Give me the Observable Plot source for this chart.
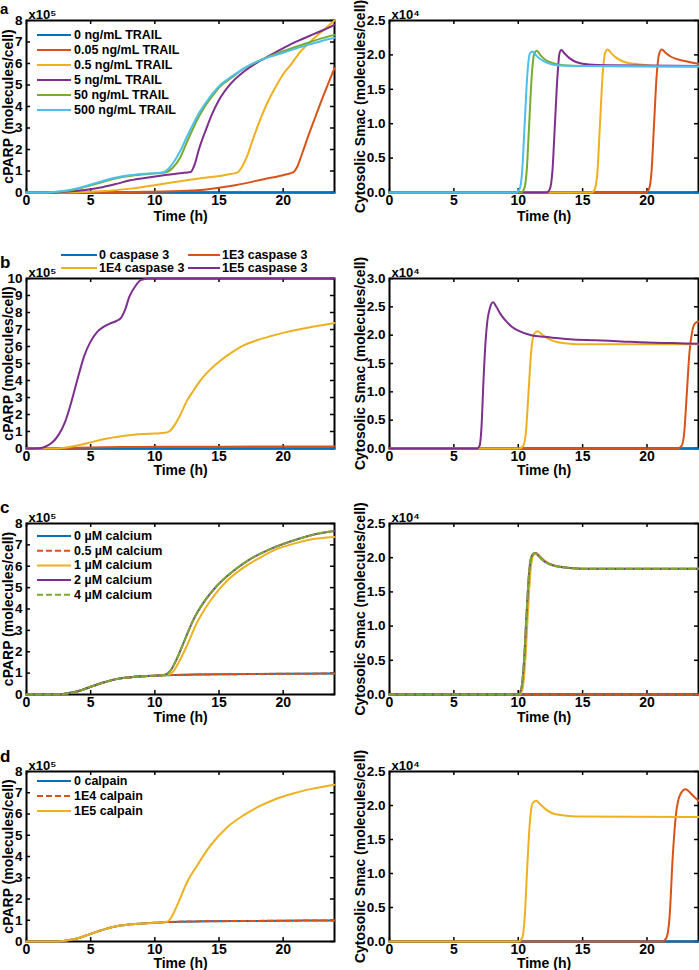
<!DOCTYPE html>
<html><head><meta charset="utf-8">
<script src="https://cdn.jsdelivr.net/npm/d3@7"></script>
<script src="https://cdn.jsdelivr.net/npm/@observablehq/plot@0.6"></script>
<style>
body{margin:0;background:#fff;}
#fig{position:relative;width:699px;height:970px;overflow:hidden;background:#fff;}
</style>
</head><body><div id="fig"></div>
<script>
// ---------- tick labels ----------
const xTicks = [0, 5, 10, 15, 20];
const yTicks8 = [0, 1, 2, 3, 4, 5, 6, 7, 8];
const yTicks10 = [0, 1, 2, 3, 4, 5, 6, 7, 8, 9, 10];
const yTicks25 = [0, 0.5, 1, 1.5, 2, 2.5];
const yTicks3 = [0, 0.5, 1, 1.5, 2, 2.5, 3];

// ---------- legend labels ----------
const legendA = ["0 ng/mL TRAIL", "0.05 ng/mL TRAIL", "0.5 ng/mL TRAIL", "5 ng/mL TRAIL", "50 ng/mL TRAIL", "500 ng/mL TRAIL"];
const legendB = ["0 caspase 3", "1E3 caspase 3", "1E4 caspase 3", "1E5 caspase 3"];
const legendC = ["0 µM calcium", "0.5 µM calcium", "1 µM calcium", "2 µM calcium", "4 µM calcium"];
const legendD = ["0 calpain", "1E4 calpain", "1E5 calpain"];

// ---------- data: [time (h), value] ----------
// Panel a, cPARP (x10^5)
const aL_0 = [[0,0],[24,0]];
const aL_005 = [[0,0],[6,0],[8.1,0.02],[10.7,0.05],[13.3,0.1],[15.9,0.3],[18.5,0.62],[20.2,0.84],[20.8,0.95],[21.1,1.2],[21.5,1.85],[22,2.7],[22.5,3.5],[23,4.3],[23.5,5.05],[24,5.78]];
const aL_05 = [[0,0],[3,0],[5,0.03],[8.1,0.18],[10.7,0.41],[13.3,0.64],[15.9,0.86],[16.45,0.94],[16.8,1.2],[17.2,1.7],[17.6,2.4],[18,3.06],[18.75,4.15],[19.5,5.0],[20,5.5],[20.6,5.95],[21.35,6.55],[22.4,7.17],[23.3,7.64],[24,8.0]];
const aL_5 = [[0,0],[2,0],[3,0.03],[4,0.08],[5,0.15],[6,0.26],[7,0.4],[8.1,0.57],[9.5,0.7],[10.7,0.8],[12,0.9],[12.78,0.95],[13.1,1.3],[13.43,2.0],[14,2.95],[14.5,3.7],[15,4.3],[15.9,5.05],[17,5.65],[18,6.05],[18.5,6.22],[19.5,6.55],[20.5,6.87],[21.5,7.14],[22.5,7.4],[23.3,7.6],[24,7.8]];
const aL_50 = [[0,0],[1.5,0],[2,0.01],[3,0.06],[4,0.17],[5,0.33],[6,0.5],[7,0.66],[8,0.77],[9,0.84],[10,0.89],[10.8,0.93],[11.4,1.15],[12,1.65],[12.5,2.35],[13,3.0],[13.5,3.6],[14,4.1],[14.5,4.5],[15,4.88],[16,5.35],[17,5.78],[18,6.1],[19,6.35],[20,6.57],[21,6.78],[22,6.98],[23,7.17],[24,7.33]];
const aL_500 = [[0,0],[1.5,0],[2,0.02],[3,0.08],[4,0.2],[5,0.37],[6,0.55],[7,0.7],[8,0.8],[9,0.86],[10,0.9],[10.6,0.93],[10.9,1.02],[11.48,1.42],[12,1.95],[12.5,2.6],[13,3.2],[13.5,3.75],[14,4.2],[14.5,4.6],[15,4.95],[16,5.4],[17,5.8],[18,6.1],[19,6.32],[20,6.5],[21,6.7],[22,6.88],[23,7.05],[24,7.2]];
// Panel a, cytosolic Smac (x10^4)
const aR_0 = [[0,0],[24,0]];
const aR_005 = [[0,0],[19.9,0],[20.15,0.05],[20.35,0.3],[20.55,1.0],[20.75,1.7],[20.95,2.02],[21.15,2.08],[21.4,2.04],[21.8,1.98],[22.5,1.93],[23.2,1.9],[24,1.87]];
const aR_05 = [[0,0],[15.7,0],[15.95,0.05],[16.15,0.3],[16.35,1.0],[16.55,1.7],[16.75,2.03],[16.95,2.08],[17.2,2.03],[17.6,1.96],[18.2,1.9],[19,1.87],[20,1.85],[21,1.84],[24,1.84]];
const aR_5 = [[0,0],[12.2,0],[12.45,0.05],[12.65,0.3],[12.85,1.0],[13.05,1.7],[13.2,2.02],[13.35,2.07],[13.6,2.02],[14,1.95],[14.6,1.89],[15.5,1.86],[17,1.85],[24,1.84]];
const aR_50 = [[0,0],[10.2,0],[10.45,0.05],[10.65,0.3],[10.85,1.0],[11.05,1.7],[11.25,2.02],[11.45,2.06],[11.7,2.0],[12.1,1.93],[12.7,1.88],[13.5,1.85],[15,1.84],[24,1.83]];
const aR_500 = [[0,0],[9.8,0],[10.1,0.05],[10.3,0.3],[10.5,1.0],[10.7,1.7],[10.9,2.02],[11.1,2.05],[11.35,2.0],[11.7,1.94],[12.3,1.88],[13,1.85],[14.5,1.84],[24,1.83]];
// Panel b, cPARP (x10^5)
const bL_0 = [[0,0],[24,0]];
const bL_1E3 = [[0,0],[2,0.01],[4,0.04],[6,0.07],[8,0.09],[10,0.1],[15,0.11],[24,0.12]];
const bL_1E4 = [[0,0],[2,0],[3,0.05],[4,0.18],[5,0.36],[6,0.55],[7,0.68],[8,0.78],[9,0.85],[10,0.88],[10.8,0.92],[11.2,1.05],[11.6,1.45],[12,2.0],[12.5,2.8],[13,3.4],[13.5,3.95],[14,4.4],[15,5.1],[16,5.65],[17,6.1],[18,6.38],[19,6.6],[20,6.8],[21,6.97],[22,7.12],[23,7.25],[24,7.38]];
const bL_1E5 = [[0,0],[1,0.02],[1.5,0.12],[2,0.35],[2.5,0.8],[3,1.55],[3.5,2.75],[4,4.15],[4.5,5.45],[5,6.3],[5.5,6.85],[6,7.15],[6.5,7.35],[7,7.5],[7.35,7.67],[7.7,8.2],[8,8.9],[8.5,9.57],[8.9,9.9],[9.5,10],[24,10]];
// Panel b, cytosolic Smac (x10^4)
const bR_0 = [[0,0],[24,0]];
const bR_1E3 = [[0,0],[22.4,0],[22.7,0.05],[22.9,0.3],[23.1,1.0],[23.3,1.7],[23.5,2.05],[23.7,2.2],[24,2.24]];
const bR_1E4 = [[0,0],[10.1,0],[10.4,0.05],[10.6,0.3],[10.8,1.0],[11.0,1.7],[11.25,2.03],[11.5,2.07],[11.8,2.02],[12.3,1.94],[13,1.88],[14,1.85],[15,1.84],[24,1.84]];
const bR_1E5 = [[0,0],[6.8,0],[7.0,0.05],[7.15,0.4],[7.3,1.2],[7.45,1.85],[7.6,2.25],[7.8,2.48],[8.05,2.58],[8.3,2.5],[8.6,2.38],[9,2.26],[9.5,2.15],[10,2.08],[11,2.0],[12,1.97],[13,1.95],[14,1.93],[16,1.91],[18,1.89],[20,1.87],[22,1.86],[24,1.85]];
// Panel c, cPARP (x10^5)
const cL_0 = [[0,0],[2,0],[3,0.04],[4,0.15],[5,0.36],[6,0.56],[7,0.72],[8,0.8],[9,0.85],[10,0.88],[10.7,0.9],[13,0.93],[16,0.95],[20,0.97],[24,0.98]];
const cL_05 = [[0,0],[2,0],[3,0.04],[4,0.15],[5,0.36],[6,0.56],[7,0.72],[8,0.8],[9,0.85],[10,0.88],[10.7,0.9],[13,0.93],[16,0.95],[20,0.97],[24,0.98]];
const cL_1 = [[0,0],[2,0],[3,0.04],[4,0.15],[5,0.36],[6,0.56],[7,0.72],[8,0.8],[9,0.85],[10,0.88],[11,0.92],[11.4,1.05],[11.9,1.55],[12.39,2.14],[13.3,3.38],[14.34,4.4],[15.64,5.33],[16.94,5.95],[18.24,6.42],[19.54,6.81],[20.83,7.06],[22.13,7.25],[24,7.37]];
const cL_2 = [[0,0],[2,0],[3,0.04],[4,0.15],[5,0.36],[6,0.56],[7,0.72],[8,0.8],[9,0.85],[10,0.88],[10.7,0.91],[11.2,1.1],[11.7,1.65],[12.26,2.45],[13.04,3.54],[13.82,4.32],[14.86,5.1],[16.16,5.8],[17.46,6.35],[18.76,6.74],[20.05,7.05],[21.36,7.31],[22.66,7.52],[24,7.65]];
const cL_4 = [[0,0],[2,0],[3,0.04],[4,0.15],[5,0.36],[6,0.56],[7,0.72],[8,0.8],[9,0.85],[10,0.88],[10.7,0.91],[11.2,1.1],[11.7,1.65],[12.26,2.45],[13.04,3.54],[13.82,4.32],[14.86,5.1],[16.16,5.8],[17.46,6.35],[18.76,6.74],[20.05,7.05],[21.36,7.31],[22.66,7.52],[24,7.65]];
// Panel c, cytosolic Smac (x10^4)
const cR_0 = [[0,0],[24,0]];
const cR_05 = [[0,0],[24,0]];
const cR_1 = [[0,0],[10.1,0],[10.35,0.1],[10.55,0.5],[10.75,1.2],[10.95,1.8],[11.15,2.03],[11.4,2.07],[11.7,2.02],[12.1,1.95],[12.6,1.9],[13.2,1.87],[14,1.85],[15,1.84],[24,1.84]];
const cR_2 = [[0,0],[10.0,0],[10.25,0.1],[10.45,0.5],[10.65,1.2],[10.85,1.8],[11.05,2.03],[11.3,2.07],[11.6,2.02],[12,1.95],[12.5,1.9],[13.1,1.87],[14,1.85],[15,1.84],[24,1.84]];
const cR_4 = [[0,0],[10.0,0],[10.25,0.1],[10.45,0.5],[10.65,1.2],[10.85,1.8],[11.05,2.03],[11.3,2.07],[11.6,2.02],[12,1.95],[12.5,1.9],[13.1,1.87],[14,1.85],[15,1.84],[24,1.84]];
// Panel d, cPARP (x10^5)
const dL_0 = [[0,0],[2,0],[3,0.04],[4,0.15],[5,0.36],[6,0.56],[7,0.72],[8,0.8],[9,0.85],[10,0.88],[11,0.92],[14,0.95],[18,0.97],[24,0.99]];
const dL_1E4 = [[0,0],[2,0],[3,0.04],[4,0.15],[5,0.36],[6,0.56],[7,0.72],[8,0.8],[9,0.85],[10,0.88],[11,0.92],[14,0.95],[18,0.97],[24,0.99]];
const dL_1E5 = [[0,0],[2,0],[3,0.04],[4,0.15],[5,0.36],[6,0.56],[7,0.72],[8,0.8],[9,0.85],[10,0.88],[10.96,0.93],[11.3,1.15],[11.74,1.7],[12.52,2.8],[13.3,3.58],[14.34,4.52],[15.64,5.38],[16.94,5.95],[18.24,6.39],[19.54,6.73],[20.83,6.98],[22.13,7.17],[24,7.38]];
// Panel d, cytosolic Smac (x10^4)
const dR_0 = [[0,0],[24,0]];
const dR_1E4 = [[0,0],[21.2,0],[21.5,0.05],[21.75,0.35],[22.0,1.25],[22.25,1.87],[22.6,2.17],[23.0,2.24],[23.3,2.2],[23.6,2.14],[24,2.07]];
const dR_1E5 = [[0,0],[10.0,0],[10.3,0.05],[10.5,0.35],[10.7,1.1],[10.9,1.75],[11.1,2.03],[11.4,2.07],[11.7,2.02],[12.1,1.95],[12.6,1.89],[13.3,1.86],[14.5,1.84],[24,1.83]];

// ---------- styling ----------
const COL = {blue: "#0072BD", orange: "#D95319", yellow: "#EDB120", purple: "#7E2F8E", green: "#77AC30", cyan: "#4DBEEE"};
const FONT = '"Liberation Sans", Arial, Helvetica, sans-serif';
const DASH = "6,3";

const seriesA = [["blue", false], ["orange", false], ["yellow", false], ["purple", false], ["green", false], ["cyan", false]];
const seriesB = [["blue", false], ["orange", false], ["yellow", false], ["purple", false]];
const seriesC = [["blue", false], ["orange", true], ["yellow", false], ["purple", false], ["green", true]];
const seriesD = [["blue", false], ["orange", true], ["yellow", false]];
const seriesDR = [["blue", false], ["orange", false], ["yellow", false]];

const cols = [
  {left: 0, width: 350, ml: 26, mr: 16, ylabOff: 18},
  {left: 350, width: 349, ml: 39, mr: 1, ylabOff: 29}
];
const rows = [
  {top: 0, mt: 20, h: 172, mb: 40, xlabOff: 24},
  {top: 240, mt: 38, h: 170, mb: 42, xlabOff: 22},
  {top: 480, mt: 43, h: 171, mb: 36, xlabOff: 23},
  {top: 720, mt: 51, h: 170, mb: 29, xlabOff: 22}
];

const CPARP = "cPARP (molecules/cell)";
const SMAC = "Cytosolic Smac (molecules/cell)";

const panels = [
  {row: 0, col: 0, yMax: 8, yTicks: yTicks8, ylabel: CPARP, mult: "x10⁵", data: [aL_0, aL_005, aL_05, aL_5, aL_50, aL_500], series: seriesA},
  {row: 0, col: 1, yMax: 2.5, yTicks: yTicks25, ylabel: SMAC, mult: "x10⁴", data: [aR_0, aR_005, aR_05, aR_5, aR_50, aR_500], series: seriesA},
  {row: 1, col: 0, yMax: 10, yTicks: yTicks10, ylabel: CPARP, mult: "x10⁵", data: [bL_0, bL_1E3, bL_1E4, bL_1E5], series: seriesB},
  {row: 1, col: 1, yMax: 3, yTicks: yTicks3, ylabel: SMAC, mult: "x10⁴", data: [bR_0, bR_1E3, bR_1E4, bR_1E5], series: seriesB},
  {row: 2, col: 0, yMax: 8, yTicks: yTicks8, ylabel: CPARP, mult: "x10⁵", data: [cL_0, cL_05, cL_1, cL_2, cL_4], series: seriesC},
  {row: 2, col: 1, yMax: 2.5, yTicks: yTicks25, ylabel: SMAC, mult: "x10⁴", data: [cR_0, cR_05, cR_1, cR_2, cR_4], series: seriesC},
  {row: 3, col: 0, yMax: 8, yTicks: yTicks8, ylabel: CPARP, mult: "x10⁵", data: [dL_0, dL_1E4, dL_1E5], series: seriesD},
  {row: 3, col: 1, yMax: 2.5, yTicks: yTicks25, ylabel: SMAC, mult: "x10⁴", data: [dR_0, dR_1E4, dR_1E5], series: seriesDR}
];

const fig = document.getElementById("fig");
const txt = {fontFamily: FONT, fontWeight: "bold", fill: "black"};

for (const p of panels) {
  const C = cols[p.col], R = rows[p.row];
  const innerW = C.width - C.ml - C.mr;
  const innerH = R.h;
  const height = R.mt + R.h + R.mb;
  const marks = [
    Plot.frame({stroke: "black", strokeWidth: 2}),
    Plot.tickX(xTicks, {x: d => d, stroke: "black", strokeWidth: 1.5, insetTop: innerH - 4}),
    Plot.tickX(xTicks, {x: d => d, stroke: "black", strokeWidth: 1.5, insetBottom: innerH - 4}),
    Plot.tickY(p.yTicks, {y: d => d, stroke: "black", strokeWidth: 1.5, insetRight: innerW - 4}),
    Plot.tickY(p.yTicks, {y: d => d, stroke: "black", strokeWidth: 1.5, insetLeft: innerW - 4}),
    Plot.axisX({ticks: xTicks, tickSize: 0, tickPadding: 3, label: null, fontSize: 14, ...txt}),
    Plot.axisY({ticks: p.yTicks, tickSize: 0, tickPadding: 4, label: null, fontSize: 13.5, ...txt}),
    ...p.data.map((d, i) => Plot.line(d, {
      x: v => v[0], y: v => v[1],
      stroke: COL[p.series[i][0]], strokeWidth: 2,
      strokeDasharray: p.series[i][1] ? DASH : null,
      curve: "monotone-x"
    })),
    Plot.text([p.ylabel], {frameAnchor: "left", rotate: -90, dx: -C.ylabOff, text: d => d, fontSize: 14, textAnchor: "middle", lineAnchor: "middle", ...txt}),
    Plot.text(["Time (h)"], {frameAnchor: "bottom", dy: R.xlabOff, text: d => d, fontSize: 14, lineAnchor: "middle", ...txt}),
    Plot.text([p.mult], {frameAnchor: "top-left", dx: 2, dy: -2, text: d => d, fontSize: 13, textAnchor: "start", lineAnchor: "bottom", ...txt})
  ];
  const svg = Plot.plot({
    width: C.width, height,
    marginLeft: C.ml, marginRight: C.mr, marginTop: R.mt, marginBottom: R.mb,
    x: {domain: [0, 24]},
    y: {domain: [0, p.yMax]},
    style: {fontFamily: FONT, fontWeight: "bold", fontSize: "14px", background: "transparent", overflow: "visible", position: "absolute", left: C.left + "px", top: R.top + "px"},
    marks
  });
  fig.appendChild(svg);
}

// ---------- overlay: panel letters and legends ----------
const ov = d3.select(fig).append("svg")
  .attr("width", 699).attr("height", 970)
  .style("position", "absolute").style("left", "0px").style("top", "0px")
  .style("pointer-events", "none")
  .attr("font-family", FONT).attr("font-weight", "bold");

const letters = [["a", 14], ["b", 268], ["c", 513], ["d", 762]];
for (const [l, y] of letters) ov.append("text").attr("x", 0).attr("y", y).attr("font-size", l === "a" ? 15 : 17).text(l);

function legendItem(label, color, dashed, x1, x2, tx, y) {
  ov.append("line").attr("x1", x1).attr("x2", x2).attr("y1", y).attr("y2", y)
    .attr("stroke", COL[color]).attr("stroke-width", 2).attr("stroke-dasharray", dashed ? DASH : null);
  ov.append("text").attr("x", tx).attr("y", y).attr("dominant-baseline", "central")
    .attr("font-size", 12.5).text(label);
}
legendA.forEach((l, i) => legendItem(l, seriesA[i][0], seriesA[i][1], 37, 71, 74, 35 + 15 * i));
legendB.forEach((l, i) => {
  const c = i % 2, r = Math.floor(i / 2);
  legendItem(l, seriesB[i][0], seriesB[i][1], c ? 188 : 61, c ? 220 : 97, c ? 222 : 99, 255 + 13 * r);
});
legendC.forEach((l, i) => legendItem(l, seriesC[i][0], seriesC[i][1], 37, 71, 74, 536 + 14.7 * i));
legendD.forEach((l, i) => legendItem(l, seriesD[i][0], seriesD[i][1], 37, 71, 74, 781 + 15 * i));
</script>
</body></html>
